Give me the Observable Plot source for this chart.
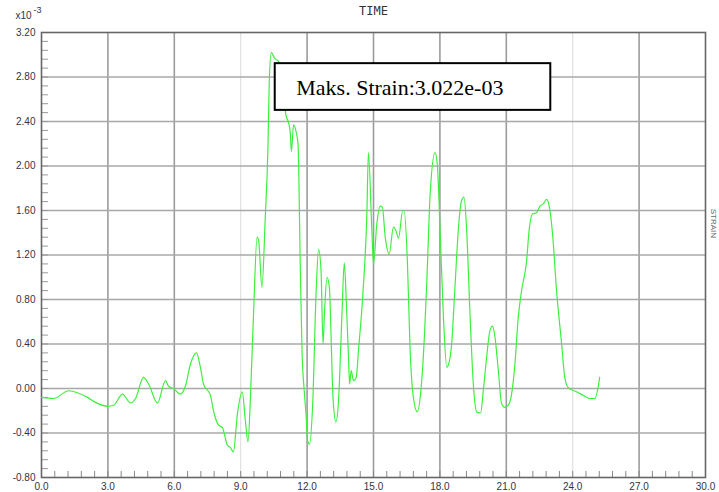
<!DOCTYPE html>
<html>
<head>
<meta charset="utf-8">
<script src="https://cdn.jsdelivr.net/npm/d3@7"></script>
<script src="https://cdn.jsdelivr.net/npm/@observablehq/plot@0.6"></script>
<style>
  html, body { margin: 0; padding: 0; background: #fff; }
  #chart { width: 719px; height: 492px; overflow: hidden; }
</style>
</head>
<body>
<div id="chart"></div>
<script>
// Time axis values (s)
const time = [0.0, 0.55, 1.23, 2.08, 2.44, 2.99, 3.26, 3.66, 4.02, 4.25, 4.61, 4.84, 5.24, 5.6, 5.74, 5.96, 6.28, 6.5, 6.73, 7.0, 7.18, 7.32, 7.63, 7.77, 8.0, 8.17, 8.4, 8.53, 8.67, 8.85, 9.07, 9.21, 9.33, 9.44, 9.58, 9.74, 9.81, 9.96, 10.11, 10.23, 10.29, 10.38, 10.53, 10.71, 10.88, 11.04, 11.16, 11.24, 11.29, 11.39, 11.5, 11.59, 11.69, 11.77, 11.87, 11.96, 12.02, 12.11, 12.25, 12.41, 12.52, 12.63, 12.72, 12.79, 12.9, 13.01, 13.08, 13.17, 13.3, 13.42, 13.57, 13.68, 13.77, 13.87, 13.92, 13.99, 14.1, 14.22, 14.32, 14.53, 14.7, 14.77, 14.92, 15.0, 15.15, 15.3, 15.4, 15.53, 15.71, 15.9, 16.01, 16.13, 16.32, 16.38, 16.53, 16.65, 16.8, 16.98, 17.14, 17.25, 17.41, 17.56, 17.78, 17.88, 18.01, 18.16, 18.31, 18.38, 18.53, 18.68, 18.83, 18.98, 19.09, 19.21, 19.36, 19.51, 19.66, 19.84, 19.96, 20.11, 20.26, 20.38, 20.49, 20.64, 20.79, 20.94, 21.09, 21.24, 21.39, 21.54, 21.69, 21.92, 22.03, 22.19, 22.37, 22.52, 22.67, 22.82, 22.94, 23.09, 23.27, 23.5, 23.64, 23.79, 24.17, 24.47, 24.77, 25.0, 25.22];
// Strain values (x10^-3)
const strain = [-0.08, -0.09, -0.02, -0.08, -0.125, -0.16, -0.15, -0.05, -0.13, -0.09, 0.10, 0.04, -0.13, 0.07, 0.02, 0.00, -0.05, 0.02, 0.22, 0.32, 0.19, 0.04, -0.06, -0.20, -0.33, -0.35, -0.51, -0.53, -0.57, -0.23, -0.03, -0.29, -0.48, -0.08, 0.67, 1.36, 1.33, 0.91, 1.54, 2.16, 2.76, 3.02, 2.97, 2.94, 2.80, 2.46, 2.39, 2.30, 2.13, 2.37, 2.31, 2.20, 1.12, 0.34, -0.02, -0.26, -0.47, -0.50, -0.15, 0.88, 1.25, 1.06, 0.40, 0.70, 1.00, 0.90, 0.49, -0.08, -0.30, -0.11, 0.64, 1.13, 0.79, 0.28, 0.04, 0.16, 0.07, 0.10, 0.34, 0.88, 1.57, 2.12, 1.45, 1.12, 1.48, 1.64, 1.63, 1.36, 1.21, 1.45, 1.42, 1.35, 1.60, 1.60, 1.15, 0.37, -0.08, -0.21, -0.02, 0.28, 0.97, 1.75, 2.12, 2.02, 1.42, 0.64, 0.19, 0.21, 0.40, 0.91, 1.42, 1.69, 1.72, 1.42, 0.67, 0.04, -0.21, -0.22, -0.02, 0.28, 0.52, 0.56, 0.46, 0.16, -0.14, -0.17, -0.15, -0.05, 0.22, 0.64, 0.88, 1.15, 1.42, 1.57, 1.58, 1.64, 1.66, 1.70, 1.64, 1.39, 0.88, 0.40, 0.10, 0.01, -0.03, -0.06, -0.09, -0.09, 0.10];

// Tick values
const xTicks = [0, 3, 6, 9, 12, 15, 18, 21, 24, 27, 30];
const yTicks = [-0.8, -0.4, 0, 0.4, 0.8, 1.2, 1.6, 2.0, 2.4, 2.8, 3.2];
const xGridStrong = [3, 6, 12, 15, 18, 21, 27];
const xGridLight = [9, 24];
const yGrid = [-0.4, 0, 0.4, 0.8, 1.2, 1.6, 2.0, 2.4, 2.8];
const xMinor = d3.range(0, 30.001, 0.6).map(d => +d.toFixed(1));
const yMinor = d3.range(-0.8, 3.2001, 0.08).map(d => +d.toFixed(2));

// Texts
const titleText = "TIME";
const unitText = "x10";
const unitExp = "-3";
const sideText = "STRAIN";
const maxLabel = "Maks. Strain:3.022e-03";
const maxBox = [{x1: 10.56, x2: 23.01, y1: 2.50, y2: 2.92, tx: 11.51, ty: 2.70}];

const data = time.map((t, i) => ({t, v: strain[i]}));

const chart = Plot.plot({
  width: 719,
  height: 492,
  marginLeft: 41,
  marginRight: 14,
  marginTop: 32,
  marginBottom: 15,
  style: {fontFamily: "Liberation Sans, Arial, sans-serif", fontSize: "10px", background: "#fff", overflow: "visible"},
  x: {domain: [0, 30]},
  y: {domain: [-0.8, 3.2]},
  marks: [
    Plot.ruleX(xGridLight, {stroke: "#e0e0e0", strokeWidth: 1.2}),
    Plot.ruleX(xGridStrong, {stroke: "#9c9c9c", strokeWidth: 1.6}),
    Plot.ruleY(yGrid, {stroke: "#a8a8a8", strokeWidth: 1.4}),
    Plot.axisX(xMinor, {anchor: "bottom", tickSize: 6, dy: -6, tickFormat: () => "", label: null, stroke: "#888"}),
    Plot.axisY(yMinor, {anchor: "left", tickSize: 7, dx: 7, tickFormat: () => "", label: null, stroke: "#999"}),
    Plot.axisX(xTicks, {anchor: "bottom", tickSize: 0, tickPadding: 5, tickFormat: d => d.toFixed(1), label: null, fill: "#334"}),
    Plot.axisY(yTicks, {anchor: "left", tickSize: 0, tickPadding: 6, tickFormat: d => (Math.abs(d) < 1e-9 ? 0 : d).toFixed(2), label: null, fill: "#334"}),
    Plot.frame({stroke: "#666", strokeWidth: 1.6}),
    Plot.line(data, {x: "t", y: "v", stroke: "#3ef03e", strokeWidth: 1.2, curve: "monotone-x"}),
    Plot.rect(maxBox, {x1: "x1", x2: "x2", y1: "y1", y2: "y2", fill: "white", stroke: "black", strokeWidth: 2}),
    Plot.text(maxBox, {x: "tx", y: "ty", text: () => maxLabel, textAnchor: "start", fontFamily: "Liberation Serif, Times New Roman, serif", fontSize: 22, fill: "#000"}),
    Plot.text([titleText], {frameAnchor: "top", lineAnchor: "middle", dy: -21, text: d => d, fontFamily: "DejaVu Sans Mono, monospace", fontSize: 12, fill: "#333"}),
    Plot.text([unitText], {frameAnchor: "top-left", lineAnchor: "middle", dx: -26, dy: -17, text: d => d, textAnchor: "start", fontSize: 10, fill: "#334"}),
    Plot.text([unitExp], {frameAnchor: "top-left", lineAnchor: "middle", dx: -8, dy: -22, text: d => d, textAnchor: "start", fontSize: 9, fill: "#334"}),
    Plot.text([sideText], {frameAnchor: "right", dx: 8, dy: -17, rotate: 90, text: d => d, fontSize: 8, fill: "#666"})
  ]
});
document.getElementById("chart").appendChild(chart);
</script>
</body>
</html>
